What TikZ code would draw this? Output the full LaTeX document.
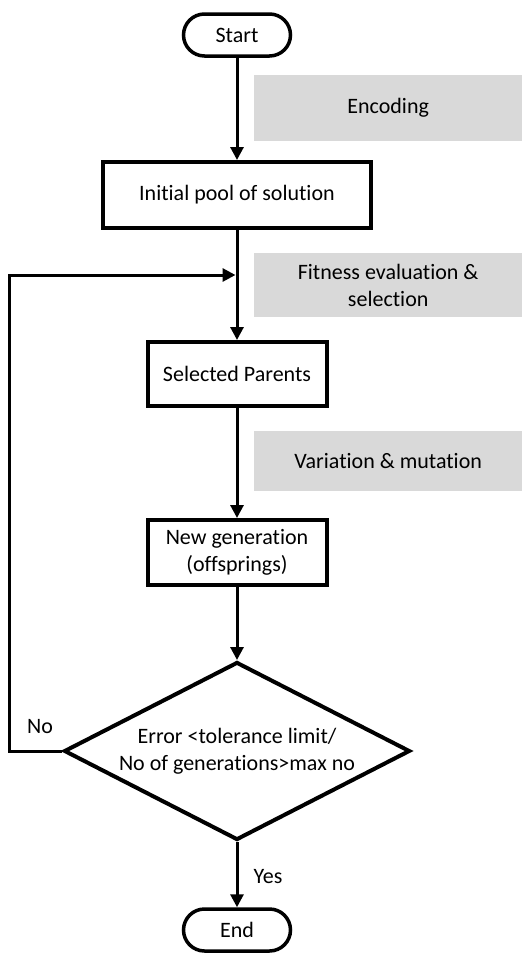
\documentclass[tikz,border=0pt]{standalone}
\usepackage{fontspec}
\setmainfont{Carlito}[Ligatures={TeX,NoCommon}]
\usetikzlibrary{arrows.meta,shapes.geometric,shapes.misc}
\definecolor{notegray}{HTML}{D9D9D9}
\begin{document}
\begin{tikzpicture}[x=1pt,y=-1pt,
  every node/.style={font=\fontsize{22}{27}\selectfont, inner sep=0pt},
  terminal/.style={rounded rectangle, draw, line width=3.5pt, minimum width=107pt, minimum height=42pt},
  process/.style={rectangle, draw, line width=4pt, align=center},
  decision/.style={diamond, draw, line width=4pt, aspect=2, minimum width=346pt, minimum height=178pt, align=center},
  note/.style={rectangle, fill=notegray, minimum width=268pt, anchor=west, align=center},
  flow/.style={line width=3pt, -{Triangle[length=13pt,width=13pt]}},
]
\useasboundingbox (0,0) rectangle (522,956);

% main flow
\node[terminal] (start) at (237,35) {Start};
\node[process, minimum width=268pt, minimum height=66pt] (pool) at (237,195) {Initial pool of solution};
\node[process, minimum width=179pt, minimum height=64pt] (parents) at (237,374) {Selected Parents};
\node[process, minimum width=179pt, minimum height=65pt] (offspring) at (237,552.5) {New generation\\(offsprings)};
\node[decision] (check) at (237,751) {Error <tolerance limit/\\No of generations>max no};
\node[terminal] (end) at (237,930) {End};

% stage notes
\node[note, minimum height=66pt] (enc) at (254,108) {Encoding};
\node[note, minimum height=64pt] (fit) at (254,285) {Fitness evaluation \&\\selection};
\node[note, minimum height=60pt] (var) at (254,461) {Variation \& mutation};

% connectors
\coordinate (join) at (235.5,275);
\draw[flow] (start) -- (pool);
\draw[flow] (pool) -- (parents);
\draw[flow] (parents) -- (offspring);
\draw[flow] (offspring) -- (check);
\draw[flow] (check) -- (end);
\draw[flow] (check.west) -- ++(-53,0) |- (join);

% branch labels
\node (nolabel) at (40,727) {No};
\node (yeslabel) at (268,877) {Yes};
\end{tikzpicture}
\end{document}
